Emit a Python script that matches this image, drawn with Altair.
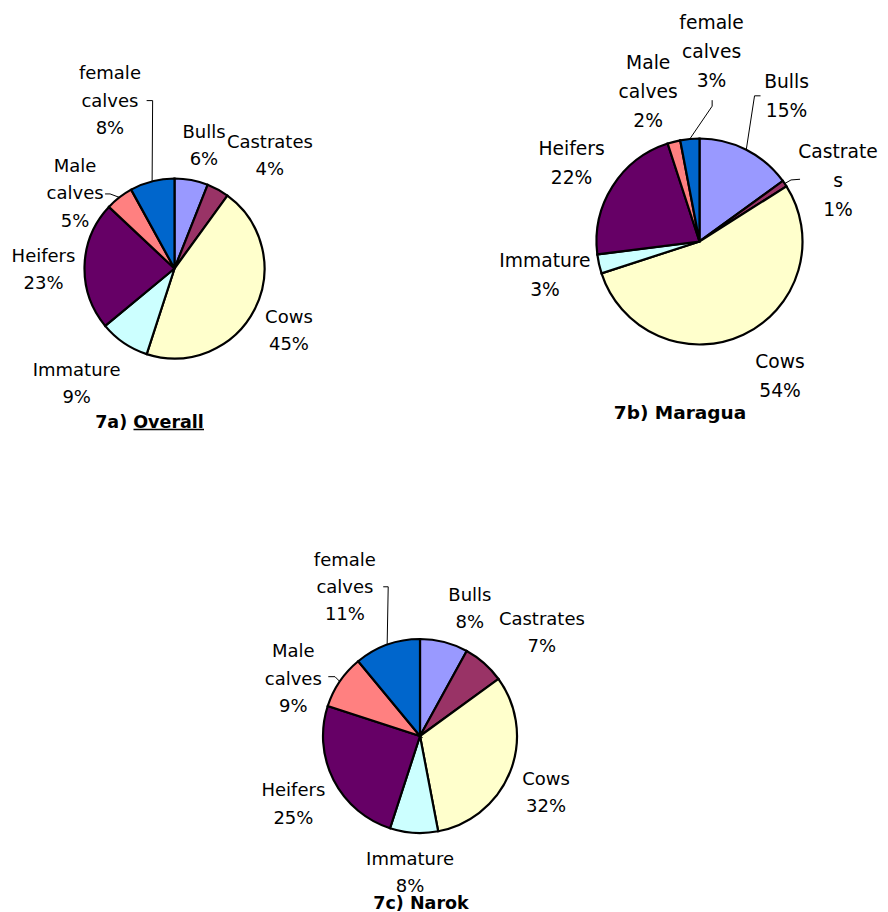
import math
import altair as alt
import pandas as pd

# ---------------- data ----------------
CATEGORIES = ["Bulls", "Castrates", "Cows", "Immature", "Heifers", "Male calves", "female calves"]
COLORS = ["#9999FF", "#993366", "#FFFFCC", "#CCFFFF", "#660066", "#FF8080", "#0066CC"]

OVERALL = [6, 4, 45, 9, 23, 5, 8]
MARAGUA = [15, 1, 54, 3, 22, 2, 3]
NAROK = [8, 7, 32, 8, 25, 9, 11]

NAMES_DEFAULT = ["Bulls", "Castrates", "Cows", "Immature", "Heifers", "Male\ncalves", "female\ncalves"]
NAMES_MARAGUA = ["Bulls", "Castrate\ns", "Cows", "Immature", "Heifers", "Male\ncalves", "female\ncalves"]

TITLES = ["7a) Overall", "7b) Maragua", "7c) Narok"]

# ---------------- layout / style ----------------
PANELS = [
    dict(key="a", values=OVERALL, names=NAMES_DEFAULT, cx=166.5, cy=260.5, r=90,
         fs=18, lh=27.5, title_x=141.5, title_y=412, title_fs=17.5,
         # (angle nudge in degrees, distance from centre)
         label_pos=[(2.5, 128), (11, 149), (0.9, 129.5), (6.5, 150), (-1.6, 131), (-14.6, 125.5), (-6.5, 181)],
         leaders={5: [(30, 2), (35, 2)], 6: [(36.7, 1.2), (42.7, 1.2)]}),
    dict(key="b", values=MARAGUA, names=NAMES_MARAGUA, cx=691.5, cy=233.5, r=103,
         fs=18.7, lh=29, title_x=672, title_y=402, title_fs=18.5,
         label_pos=[(3.6, 171), (9.9, 152), (-6.1, 155), (1.1, 157.7), (-0.3, 151), (-4.3, 160), (9, 192)],
         leaders={0: [(-26, 1.5), (-32, 1.5)], 1: [(-38, 0.3), (-47, 1)], 6: [(0.6, 50.3), (0.6, 56.3)]}),
    dict(key="c", values=NAROK, names=NAMES_DEFAULT, cx=412, cy=728, r=97,
         fs=18, lh=27.3, title_x=413, title_y=893, title_fs=17.5,
         label_pos=[(6.7, 138.6), (7.8, 161), (1.9, 137.4), (0.6, 135.4), (-0.7, 143), (-9.3, 139.7), (-6.7, 168.3)],
         leaders={5: [(35, -0.5), (41.7, -0.5)], 6: [(38.3, 1.4), (43.3, 1.4)]}),
]

FONT = "DejaVu Sans"
TEXT_SHIFT = 2.5  # visual centring of a text line around its anchor

layers = []
for p, title in zip(PANELS, TITLES):
    cx, cy, r = p["cx"], p["cy"], p["r"]
    df = pd.DataFrame({"category": CATEGORIES, "value": p["values"], "order": list(range(len(CATEGORIES)))})

    pie = alt.Chart(df).mark_arc(outerRadius=r, stroke="black", strokeWidth=2.2).encode(
        theta=alt.Theta("value:Q", stack=True),
        color=alt.Color("category:N", scale=alt.Scale(domain=CATEGORIES, range=COLORS), legend=None),
        order=alt.Order("order:Q"),
        x=alt.value(cx),
        y=alt.value(cy),
    )
    layers.append(pie)

    total = sum(p["values"])
    cum = 0.0
    lab_rows, lead_rows = [], []
    for i, (name, v) in enumerate(zip(p["names"], p["values"])):
        mid = (cum + v / 2.0) / total * 360.0
        cum += v
        nudge, dist = p["label_pos"][i]
        a = math.radians(mid + nudge)
        lx = cx + dist * math.sin(a)
        ly = cy - dist * math.cos(a)
        text = f"{name}\n{v}%"
        n_lines = text.count("\n") + 1
        ty = ly - (n_lines - 1) * p["lh"] / 2.0 + TEXT_SHIFT
        lab_rows.append({"text": text, "lx": lx, "ty": ty})
        if i in p["leaders"]:
            (ax, ay), (ex, ey) = p["leaders"][i]
            m = math.radians(mid)
            pts = [(lx + ax, ly + ay), (lx + ex, ly + ey), (cx + r * math.sin(m), cy - r * math.cos(m))]
            for k, (px, py) in enumerate(pts):
                lead_rows.append({"id": f"{p['key']}{i}", "k": k, "px": px, "py": py})

    labels = alt.Chart(pd.DataFrame(lab_rows)).mark_text(
        font=FONT, fontSize=p["fs"], lineHeight=p["lh"], lineBreak="\n",
        align="center", baseline="middle", color="black",
    ).encode(
        x=alt.X("lx:Q", scale=None, axis=None),
        y=alt.Y("ty:Q", scale=None, axis=None),
        text="text:N",
    )
    layers.append(labels)

    if lead_rows:
        leads = alt.Chart(pd.DataFrame(lead_rows)).mark_line(color="black", strokeWidth=1).encode(
            x=alt.X("px:Q", scale=None, axis=None),
            y=alt.Y("py:Q", scale=None, axis=None),
            detail="id:N",
            order="k:Q",
        )
        layers.append(leads)

    ttl = alt.Chart(pd.DataFrame({"t": [title], "tx": [p["title_x"]], "ty": [p["title_y"] + TEXT_SHIFT]})).mark_text(
        font=FONT, fontSize=p["title_fs"], fontWeight="bold", align="center", baseline="middle", color="black",
    ).encode(
        x=alt.X("tx:Q", scale=None, axis=None),
        y=alt.Y("ty:Q", scale=None, axis=None),
        text="t:N",
    )
    layers.append(ttl)

# underline of "Overall"
underline = alt.Chart(pd.DataFrame({"u": [0]})).mark_rule(color="black", strokeWidth=1.6).encode(
    x=alt.value(125.5), x2=alt.value(196), y=alt.value(421.5)
)
layers.append(underline)

chart = alt.layer(*layers).properties(
    width=872, height=904, padding=0, autosize="none"
).resolve_scale(theta="independent").configure_view(stroke=None)

chart.save("out.html", embed_options={"renderer": "svg", "actions": False})
